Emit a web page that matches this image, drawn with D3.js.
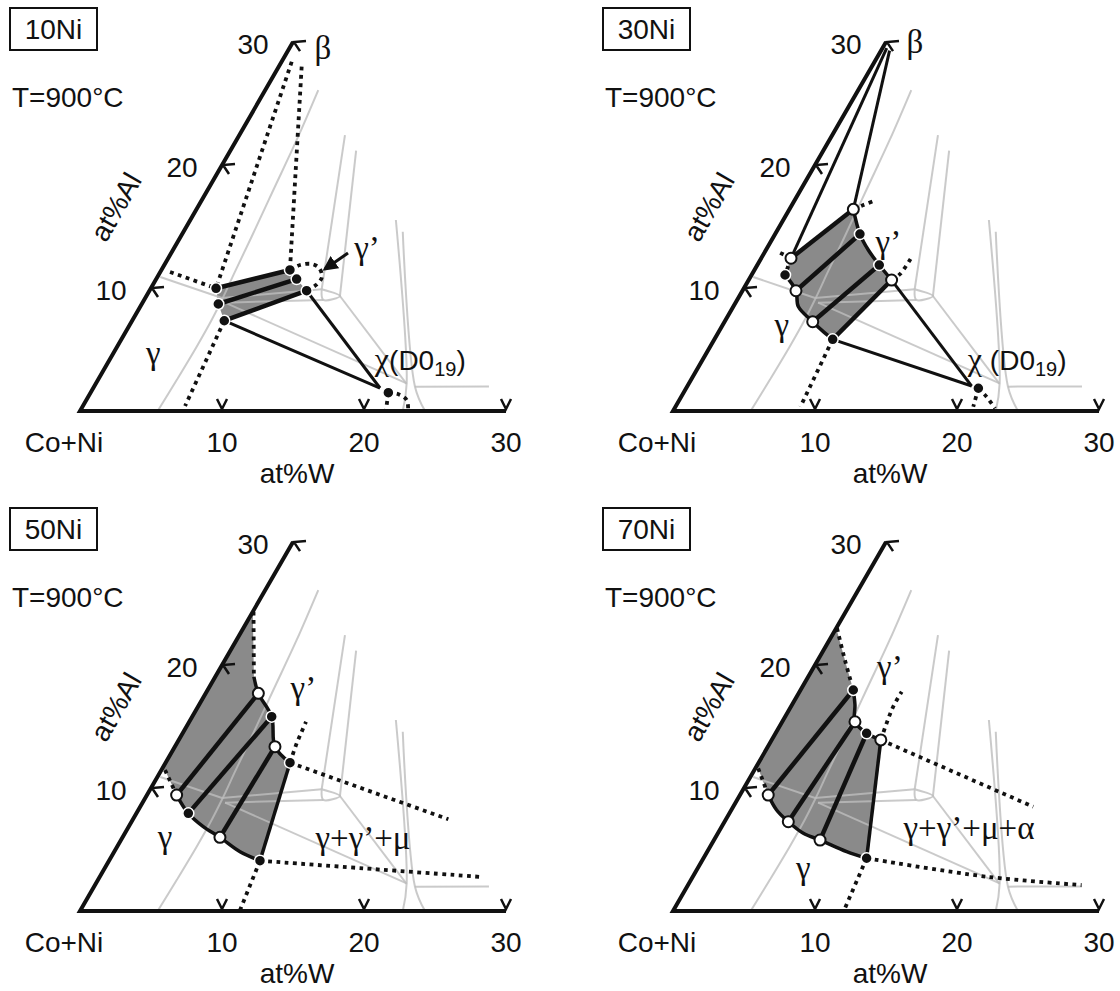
<!DOCTYPE html>
<html>
<head>
<meta charset="utf-8">
<script src="https://cdn.jsdelivr.net/npm/d3@7"></script>
<style>
body { margin: 0; background: #fff; }
text { font-family: "Liberation Sans", Arial, sans-serif; fill: #111; }
.gr { font-family: "Liberation Serif", "DejaVu Serif", serif; }
</style>
</head>
<body>
<svg id="chart" width="1120" height="991"></svg>
<script>
// all compositions are [at%W, at%Al]
var wTicks = [10, 20, 30];
var alTicks = [10, 20, 30];
var panelNames = ["10Ni", "30Ni", "50Ni", "70Ni"];
var tempLabel = "T=900°C";

// light grey boundaries, same in every section
var grayLines = [
	[[3.73,26.1],[4.24,22.04],[4.63,17.97],[5.0,14.17],[5.25,11.33],[5.45,9.29],[5.57,7.4],[5.6,5.23],[5.55,2.52],[5.47,0]],
	[[0.2,10.9],[5.41,9.19]],
	[[5.41,9.19],[12.07,9.9]],
	[[5.81,8.81],[12.62,9.03]],
	[[12.07,9.9],[13.63,9.35],[12.62,9.03],[12.07,9.9]],
	[[7.44,22.44],[12.07,9.9]],
	[[8.86,21.17],[13.63,9.35]],
	[[13.63,9.35],[21.9,2.2]],
	[[5.81,8.81],[21.88,2.25]],
	[[14.48,15.53],[21.88,2.25],[22.73,0]],
	[[15.44,14.58],[22.6,1.98],[24.3,0]],
	[[22.6,1.98],[27.8,2.0]]
];

// 10Ni
var ni10Fill = [[4.59,9.98],[9.05,11.47],[9.89,10.73],[11.07,9.78],[6.49,7.34],[5.39,8.7]];
var ni10Ties = [[[4.59,9.98],[9.05,11.47]],[[5.39,8.7],[9.89,10.73]],[[6.49,7.34],[11.07,9.78]]];
var ni10Solid = [[[6.49,7.34],[20.19,1.87]],[[11.07,9.78],[20.19,1.87]]];
var ni10Bound = [];
var ni10Dotted = [
	[[0.71,28.4],[4.59,9.98]],
	[[1.61,28.0],[9.05,11.47]],
	[[0.69,11.3],[4.59,9.98]],
	[[6.49,7.34],[7.2,0.4]],
	[[9.05,11.47],[9.56,11.87],[10.36,11.95],[11.02,11.63],[11.59,10.9],[11.5,10.25],[11.07,9.78]],
	[[20.97,1.49],[21.7,1.38],[22.56,0.89],[23.06,0.1]],
	[[20.97,1.49],[21.5,0.1]]
];
var ni10Points = [[4.59,9.98,"f"],[5.39,8.7,"f"],[6.49,7.34,"f"],[9.05,11.47,"f"],[9.89,10.73,"f"],[11.07,9.78,"f"],[20.97,1.49,"f"]];
var ni10Labels = [["γ",2.81,4.69],["γ’",13.58,13.26],["β",2.35,29.5]];
var ni10Chi = ["χ", "(D0", 19.1, 3.33];
var ni10Arrow = [[12.45,12.85],[11.48,11.55]];

// 30Ni
var ni30Fill = [[2.1,12.42],[4.5,16.4],[5.97,14.39],[7.21,13.09],[8.59,11.87],[10.07,10.65],[8.33,5.83],[7.36,6.45],[6.21,7.26],[4.58,8.49],[3.77,9.78],[2.36,11.06]];
var ni30Ties = [[[2.1,12.42],[4.5,16.4]],[[3.77,9.78],[5.97,14.39]],[[6.21,7.26],[8.59,11.87]],[[8.33,5.83],[10.07,10.65]]];
var ni30Solid = [[[0.3,29.5],[2.1,12.42]],[[0.6,29.3],[4.5,16.4]],[[8.33,5.83],[20.02,2.03]],[[10.07,10.65],[20.02,2.03]]];
var ni30Bound = [
	[[2.36,11.06],[3.77,9.78],[4.58,8.49],[6.21,7.26],[7.36,6.45],[8.33,5.83]],
	[[4.5,16.4],[5.97,14.39],[7.21,13.09],[8.59,11.87],[10.07,10.65]]
];
var ni30Dotted = [
	[[2.1,12.42],[0.8,13.0]],
	[[2.1,12.42],[2.36,11.06]],
	[[4.5,16.4],[5.03,16.75],[5.61,17.08]],
	[[10.07,10.65],[10.42,11.14],[10.55,12.5]],
	[[8.33,5.83],[8.8,0.35]],
	[[20.58,1.85],[21.5,1.16],[22.57,0.22]],
	[[20.58,1.85],[20.97,0.35]]
];
var ni30Points = [[2.1,12.42,"o"],[2.36,11.06,"f"],[3.77,9.78,"o"],[6.21,7.26,"o"],[8.33,5.83,"f"],[4.5,16.4,"o"],[5.97,14.39,"f"],[8.59,11.87,"f"],[10.07,10.65,"o"],[20.58,1.85,"f"]];
var ni30Labels = [["γ",4.16,6.99],["γ’",8.28,13.77],["β",2.03,30.0]];
var ni30Chi = ["χ", " (D0", 19.1, 3.33];

// 50Ni
var ni50Fill = [[0,24.34],[2.72,19.05],[3.71,17.7],[5.6,15.8],[7.05,13.36],[8.76,12.06],[10.63,4.09],[8.86,4.82],[6.86,5.99],[5.25,6.86],[3.66,7.94],[2.09,9.43],[0.25,11.47],[0,11.47]];
var ni50Ties = [[[3.71,17.7],[2.09,9.43]],[[5.6,15.8],[3.66,7.94]],[[7.05,13.36],[6.86,5.99]]];
var ni50Solid = [];
var ni50Bound = [
	[[2.72,19.05],[3.71,17.7],[5.6,15.8],[7.05,13.36],[8.76,12.06]],
	[[8.76,12.06],[10.63,4.09]],
	[[2.09,9.43],[3.66,7.94],[5.25,6.86],[6.86,5.99],[8.86,4.82],[10.63,4.09]]
];
var ni50Dotted = [
	[[0.05,24.34],[2.72,19.05]],
	[[0.25,11.47],[2.09,9.43]],
	[[8.76,12.06],[8.44,13.64],[8.32,14.58],[8.22,15.39]],
	[[8.76,12.06],[22.21,7.46]],
	[[10.63,4.09],[18.21,3.47],[27.0,2.76]],
	[[10.63,4.09],[11.23,0.1]]
];
var ni50Points = [[3.71,17.7,"o"],[5.6,15.8,"f"],[7.05,13.36,"o"],[8.76,12.06,"f"],[10.63,4.09,"f"],[2.09,9.43,"o"],[3.66,7.94,"f"],[6.86,5.99,"o"]];
var ni50Labels = [["γ’",6.68,18.1],["γ",2.97,6.04],["γ+γ’+μ",16.96,5.94]];

// 70Ni
var ni70Fill = [[0,23.0],[1.9,20.41],[3.71,17.97],[4.44,16.75],[5.12,15.39],[6.41,14.45],[7.68,13.91],[11.49,4.29],[9.82,4.82],[7.47,5.77],[6.02,6.32],[4.49,7.26],[3.19,8.21],[1.99,9.43],[0.2,11.6],[0,11.6]];
var ni70Ties = [[[3.71,17.97],[1.99,9.43]],[[5.12,15.39],[4.49,7.26]],[[6.41,14.45],[7.47,5.77]]];
var ni70Solid = [];
var ni70Bound = [
	[[3.71,17.97],[4.44,16.75],[5.12,15.39],[6.41,14.45],[7.68,13.91]],
	[[7.68,13.91],[11.49,4.29]],
	[[1.99,9.43],[3.19,8.21],[4.49,7.26],[6.02,6.32],[7.47,5.77],[9.82,4.82],[11.49,4.29]]
];
var ni70Dotted = [
	[[0.05,23.0],[1.9,20.41],[3.71,17.97]],
	[[0.2,11.6],[1.99,9.43]],
	[[7.68,13.91],[7.41,15.26],[7.2,16.61],[7.19,17.83]],
	[[7.68,13.91],[21.13,8.48]],
	[[11.49,4.29],[20.69,2.79],[27.72,2.11]],
	[[11.49,4.29],[12.0,0.2]]
];
var ni70Points = [[3.71,17.97,"f"],[5.12,15.39,"o"],[6.41,14.45,"f"],[7.68,13.91,"o"],[11.49,4.29,"f"],[1.99,9.43,"o"],[4.49,7.26,"o"],[7.47,5.77,"o"]];
var ni70Labels = [["γ’",5.34,19.87],["γ",7.44,3.47],["γ+γ’+μ+α",17.47,6.75]];

var panels = [
	{ name: panelNames[0], ox: 80,  oy: 411, fill: ni10Fill, ties: ni10Ties, solid: ni10Solid, bound: ni10Bound, dotted: ni10Dotted, points: ni10Points, labels: ni10Labels, chi: ni10Chi, arrow: ni10Arrow },
	{ name: panelNames[1], ox: 673, oy: 411, fill: ni30Fill, ties: ni30Ties, solid: ni30Solid, bound: ni30Bound, dotted: ni30Dotted, points: ni30Points, labels: ni30Labels, chi: ni30Chi },
	{ name: panelNames[2], ox: 80,  oy: 911, fill: ni50Fill, ties: ni50Ties, solid: ni50Solid, bound: ni50Bound, dotted: ni50Dotted, points: ni50Points, labels: ni50Labels },
	{ name: panelNames[3], ox: 673, oy: 911, fill: ni70Fill, ties: ni70Ties, solid: ni70Solid, bound: ni70Bound, dotted: ni70Dotted, points: ni70Points, labels: ni70Labels }
];

var S = 14.2;
var xs = d3.scaleLinear().domain([0, 30]).range([0, 30 * S]);
var ys = d3.scaleLinear().domain([0, 30]).range([0, -30 * S * Math.sqrt(3) / 2]);
var px = function(d){ return xs(d[0]) + xs(d[1]) / 2; };
var py = function(d){ return ys(d[1]); };
var smoothLine = d3.line().x(px).y(py).curve(d3.curveCatmullRom.alpha(0.5));
var straightLine = d3.line().x(px).y(py);
var areaLine = d3.line().x(px).y(py).curve(d3.curveLinearClosed);

var svg = d3.select("#chart");
svg.append("defs").append("marker")
	.attr("id", "head").attr("viewBox", "0 0 10 10")
	.attr("refX", 8).attr("refY", 5)
	.attr("markerWidth", 5).attr("markerHeight", 5)
	.attr("orient", "auto")
	.append("path").attr("d", "M0,0 L10,5 L0,10 z").attr("fill", "#111");

var drawPanel = function(p){
	var g = svg.append("g").attr("transform", "translate(" + p.ox + "," + p.oy + ")");

	// shaded two-phase field
	g.append("path").attr("d", areaLine(p.fill)).attr("fill", "#8a8a8a");

	// grey boundaries
	g.append("g").selectAll("path").data(grayLines).enter()
		.append("path").attr("d", smoothLine)
		.attr("fill", "none").attr("stroke", "#bdbdbd").attr("stroke-opacity", 0.8)
		.attr("stroke-width", 2);

	// axes
	g.append("path").attr("d", straightLine([[0, 30], [0, 0], [30, 0]]))
		.attr("fill", "none").attr("stroke", "#111").attr("stroke-width", 4)
		.attr("stroke-linejoin", "miter");

	g.append("g").selectAll("path").data(wTicks).enter()
		.append("path")
		.attr("d", function(t){
			var x = xs(t), y = -2;
			return "M" + (x - 5) + "," + (y - 10) + " L" + x + "," + y + " L" + (x + 5) + "," + (y - 10);
		})
		.attr("fill", "none").attr("stroke", "#111").attr("stroke-width", 2.5);
	g.append("g").selectAll("path").data(alTicks).enter()
		.append("path")
		.attr("d", function(t){
			var x = px([0, t]) + 1, y = py([0, t]);
			return "M" + (x + 12) + "," + (y - 1) + " L" + x + "," + y + " L" + (x + 6) + "," + (y + 9);
		})
		.attr("fill", "none").attr("stroke", "#111").attr("stroke-width", 2.5);

	g.append("g").selectAll("text").data(wTicks).enter()
		.append("text").attr("x", function(t){ return xs(t); }).attr("y", 41)
		.attr("text-anchor", "middle").attr("font-size", 28).text(function(t){ return t; });
	g.append("g").selectAll("text").data(alTicks).enter()
		.append("text").attr("x", function(t){ return px([0, t]) - 40; }).attr("y", function(t){ return py([0, t]) + 12; })
		.attr("text-anchor", "middle").attr("font-size", 28).text(function(t){ return t; });
	g.append("text").attr("x", -16).attr("y", 41).attr("text-anchor", "middle")
		.attr("font-size", 28).text("Co+Ni");
	g.append("text").attr("x", xs(15) + 4).attr("y", 72).attr("text-anchor", "middle")
		.attr("font-size", 28).text("at%W");
	g.append("text").attr("transform", "translate(36,-204) rotate(-60)")
		.attr("text-anchor", "middle").attr("dominant-baseline", "central")
		.attr("font-size", 28).text("at%Al");

	// title box and temperature
	g.append("rect").attr("x", -70).attr("y", -403).attr("width", 87).attr("height", 42)
		.attr("fill", "none").attr("stroke", "#111").attr("stroke-width", 2);
	g.append("text").attr("x", -26.5).attr("y", -372).attr("text-anchor", "middle")
		.attr("font-size", 28).text(p.name);
	g.append("text").attr("x", -68).attr("y", -304).attr("font-size", 28).text(tempLabel);

	// dotted boundaries
	g.append("g").selectAll("path").data(p.dotted).enter()
		.append("path").attr("d", smoothLine)
		.attr("fill", "none").attr("stroke", "#111").attr("stroke-width", 3.8)
		.attr("stroke-dasharray", "3.8,4.5");

	// three-phase edges
	g.append("g").selectAll("path").data(p.solid).enter()
		.append("path").attr("d", straightLine)
		.attr("fill", "none").attr("stroke", "#111").attr("stroke-width", 3);

	// phase boundaries
	g.append("g").selectAll("path").data(p.bound).enter()
		.append("path").attr("d", smoothLine)
		.attr("fill", "none").attr("stroke", "#111").attr("stroke-width", 3.5);

	// tie lines
	g.append("g").selectAll("path").data(p.ties).enter()
		.append("path").attr("d", straightLine)
		.attr("fill", "none").attr("stroke", "#111").attr("stroke-width", 4.5);

	if(p.arrow){
		g.append("path").attr("d", straightLine(p.arrow))
			.attr("stroke", "#111").attr("stroke-width", 3).attr("marker-end", "url(#head)");
	}

	// measured compositions
	g.append("g").selectAll("circle").data(p.points).enter()
		.append("circle")
		.attr("cx", px).attr("cy", py).attr("r", 5.5)
		.attr("fill", function(d){ return d[2] === "o" ? "#fff" : "#111"; })
		.attr("stroke", function(d){ return d[2] === "o" ? "#111" : "#fff"; })
		.attr("stroke-width", function(d){ return d[2] === "o" ? 2 : 1.5; });

	// phase labels
	g.append("g").selectAll("text").data(p.labels).enter()
		.append("text").attr("class", "gr")
		.attr("x", function(d){ return px([d[1], d[2]]); })
		.attr("y", function(d){ return py([d[1], d[2]]); })
		.attr("text-anchor", "middle").attr("dominant-baseline", "central")
		.attr("font-size", 33).text(function(d){ return d[0]; });

	if(p.chi){
		var t = g.append("text").attr("x", px([p.chi[2], p.chi[3]])).attr("y", py([p.chi[2], p.chi[3]]))
			.attr("font-size", 28);
		t.append("tspan").attr("class", "gr").attr("font-size", 32).text(p.chi[0]);
		t.append("tspan").text(p.chi[1]);
		t.append("tspan").attr("font-size", 20).attr("dy", 6).text("19");
		t.append("tspan").attr("dy", -6).text(")");
	}
};

panels.forEach(drawPanel);
</script>
</body>
</html>
